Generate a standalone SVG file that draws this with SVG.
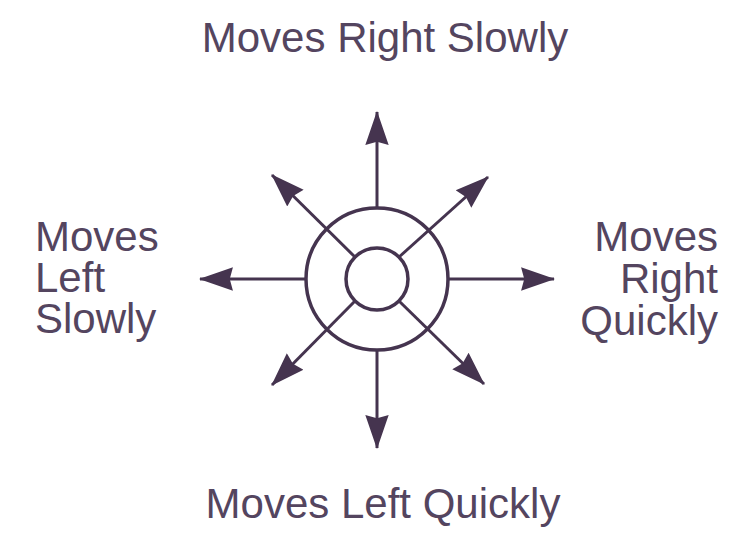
<svg xmlns="http://www.w3.org/2000/svg" width="735" height="542" viewBox="0 0 735 542">
<style>
.lbl{font-family:"Liberation Sans",Arial,Helvetica,sans-serif;font-size:42px;fill:#54455f}
.ln{stroke:#45344f;stroke-width:3;fill:none}
</style>
<defs>
<marker id="ah" markerUnits="userSpaceOnUse" markerWidth="34" markerHeight="26" viewBox="0 0 32 24" refX="31" refY="12" orient="auto">
<path d="M0,1 L32,12 L0,23 L3,12 Z" fill="#45344f"/>
</marker>
</defs>
<rect width="735" height="542" fill="#fff"/>
<g id="connectors">
<line class="ln" x1="377" y1="208" x2="377" y2="112" marker-end="url(#ah)"/>
<line class="ln" x1="377" y1="350" x2="377" y2="448" marker-end="url(#ah)"/>
<line class="ln" x1="306" y1="279" x2="200" y2="279" marker-end="url(#ah)"/>
<line class="ln" x1="448" y1="279" x2="554" y2="279" marker-end="url(#ah)"/>
<line class="ln" x1="355" y1="257" x2="272" y2="175" marker-end="url(#ah)"/>
<line class="ln" x1="399" y1="257" x2="488" y2="177" marker-end="url(#ah)"/>
<line class="ln" x1="355" y1="301" x2="272" y2="385" marker-end="url(#ah)"/>
<line class="ln" x1="399" y1="301" x2="484" y2="384" marker-end="url(#ah)"/>
</g>
<g id="center">
<circle cx="377" cy="279" r="71" class="ln" style="stroke-width:3.5"/>
<circle cx="377" cy="279" r="31" class="ln" style="stroke-width:3.5"/>
</g>
<g id="label-top"><text class="lbl" x="385" y="52" text-anchor="middle">Moves Right Slowly</text></g>
<g id="label-bottom"><text class="lbl" x="383" y="518" text-anchor="middle">Moves Left Quickly</text></g>
<g id="label-left"><text class="lbl"><tspan x="35" y="251">Moves</tspan><tspan x="35" y="292">Left</tspan><tspan x="35" y="333">Slowly</tspan></text></g>
<g id="label-right"><text class="lbl" text-anchor="end"><tspan x="718" y="251">Moves</tspan><tspan x="718" y="293">Right</tspan><tspan x="718" y="335">Quickly</tspan></text></g>
</svg>
